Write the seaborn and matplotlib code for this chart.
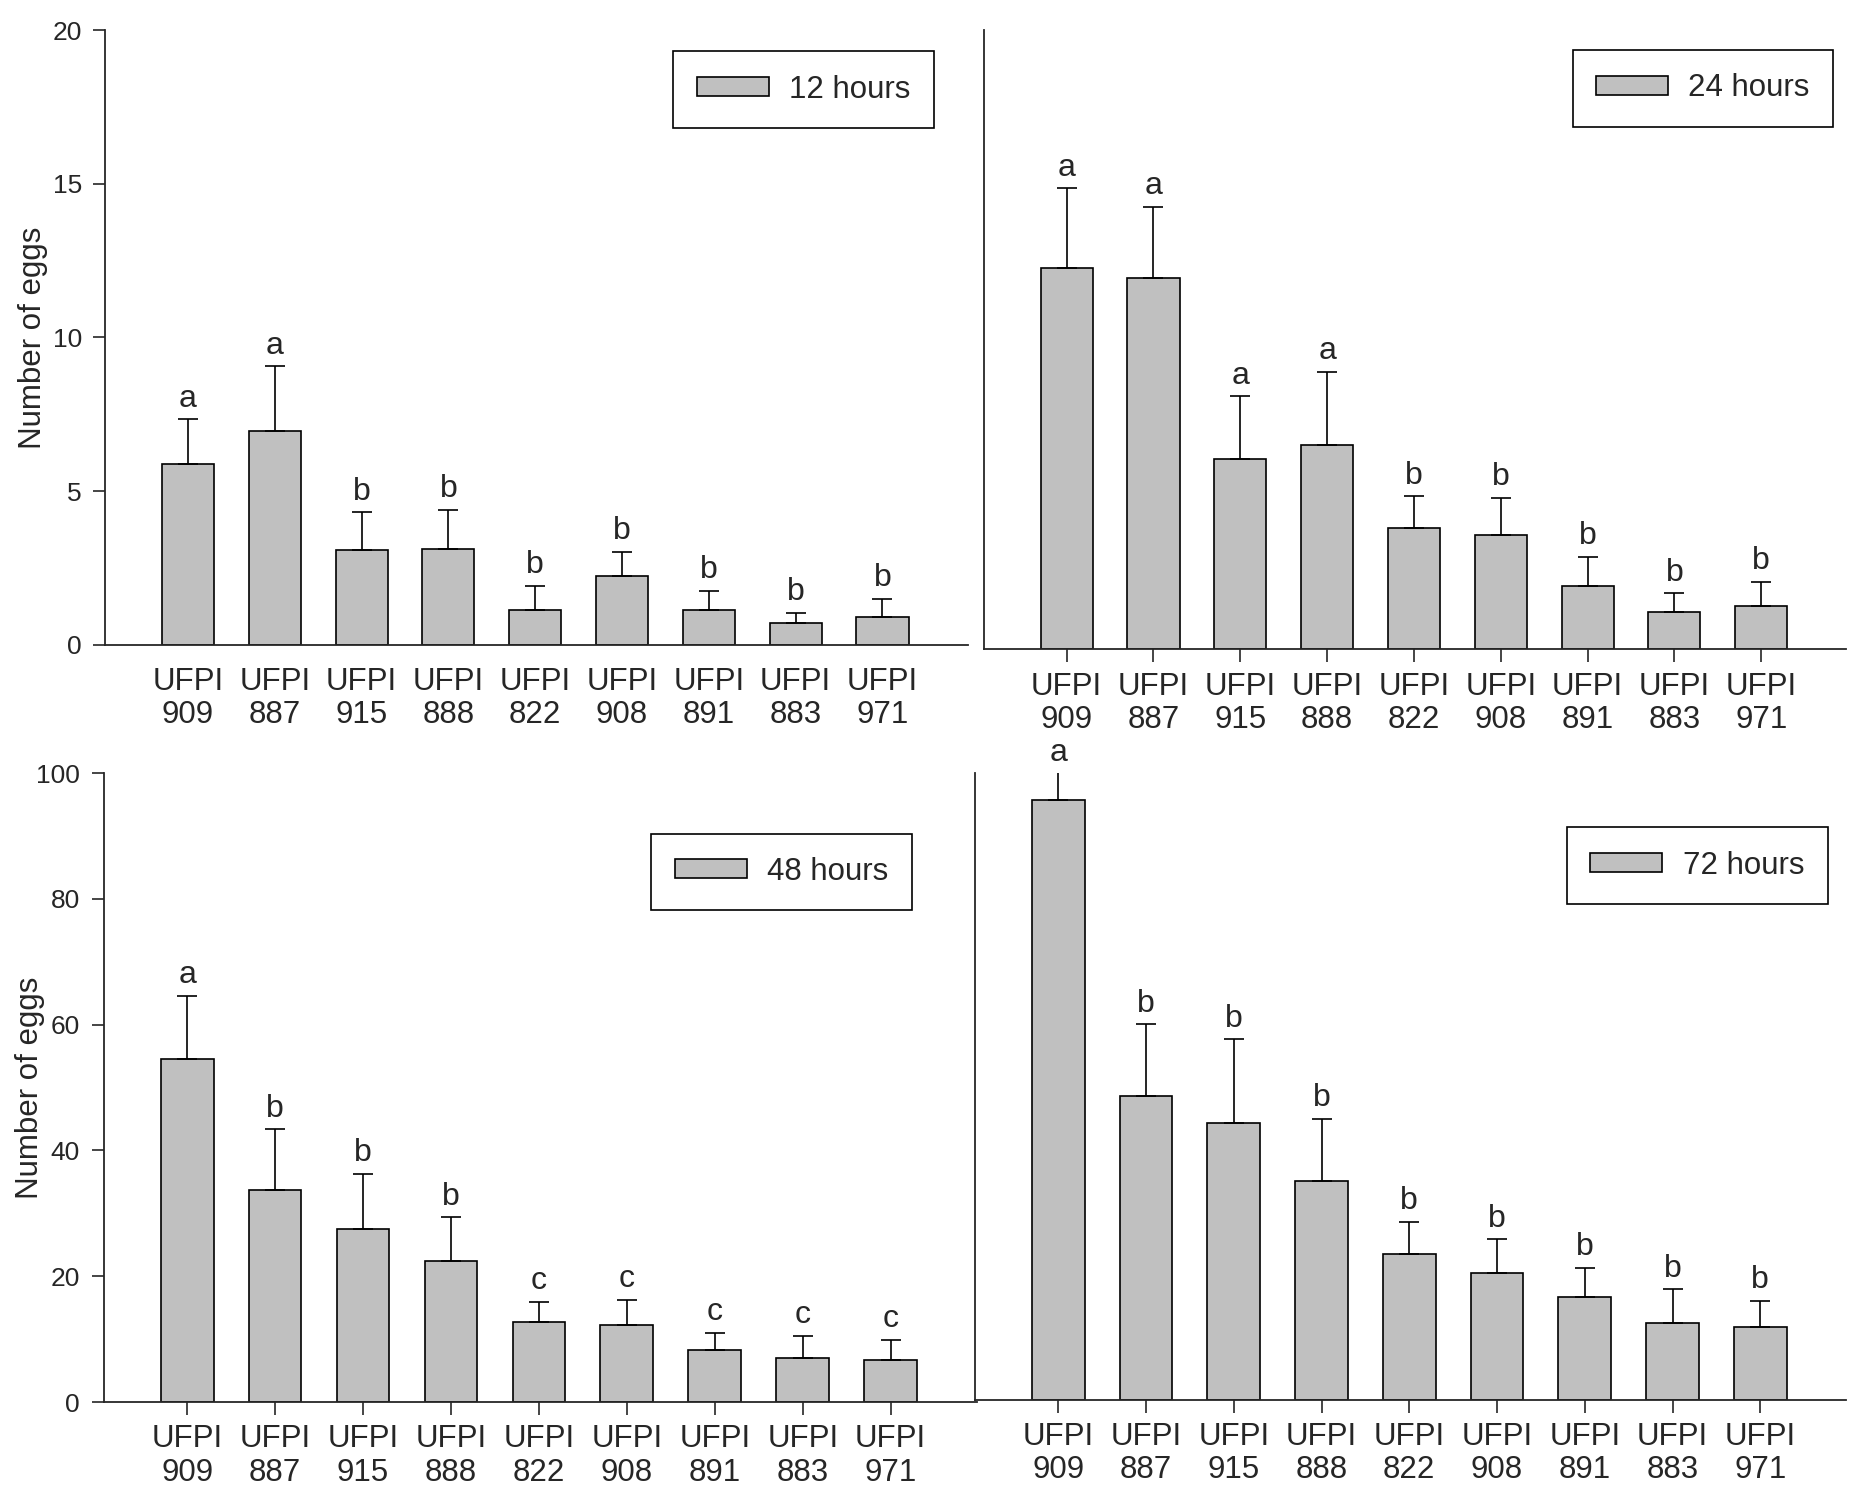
import pandas as pd
import matplotlib
matplotlib.use('Agg')
import matplotlib.pyplot as plt
import seaborn as sns
from matplotlib.patches import Patch

# Strains (same order in every panel)
strains = ['UFPI\n909', 'UFPI\n887', 'UFPI\n915', 'UFPI\n888', 'UFPI\n822',
           'UFPI\n908', 'UFPI\n891', 'UFPI\n883', 'UFPI\n971']

# Mean number of eggs and upper error (SE) per period
mean_12h = [5.88, 6.97, 3.07, 3.11, 1.13, 2.23, 1.13, 0.71, 0.90]
err_12h = [1.46, 2.09, 1.24, 1.29, 0.79, 0.79, 0.62, 0.33, 0.59]
letters_12h = ['a', 'a', 'b', 'b', 'b', 'b', 'b', 'b', 'b']

mean_24h = [12.33, 11.99, 6.16, 6.61, 3.91, 3.68, 2.05, 1.21, 1.41]
err_24h = [2.57, 2.31, 2.01, 2.35, 1.03, 1.22, 0.93, 0.60, 0.77]
letters_24h = ['a', 'a', 'a', 'a', 'b', 'b', 'b', 'b', 'b']

mean_48h = [54.5, 33.7, 27.5, 22.4, 12.7, 12.2, 8.2, 7.0, 6.7]
err_48h = [10.1, 9.7, 8.8, 7.0, 3.2, 4.1, 2.8, 3.5, 3.2]
letters_48h = ['a', 'b', 'b', 'b', 'c', 'c', 'c', 'c', 'c']

mean_72h = [95.7, 48.5, 44.1, 34.9, 23.3, 20.2, 16.4, 12.2, 11.6]
err_72h = [12.0, 11.4, 13.4, 9.9, 5.1, 5.4, 4.7, 5.4, 4.2]
letters_72h = ['a', 'b', 'b', 'b', 'b', 'b', 'b', 'b', 'b']

sns.set_style('ticks')
plt.rcParams['font.family'] = ['Liberation Sans', 'DejaVu Sans']

bar_color = '#c0c0c0'

fig = plt.figure(figsize=(18.5, 15.1), dpi=100)

panels = [
    # rect, means, errs, letters, label, ymax, yticks, show y, x ticks, legend anchor
    ([0.057, 0.573, 0.466, 0.407], mean_12h, err_12h, letters_12h, '12 hours', 20, [0, 5, 10, 15, 20], True, False, (0.364, 0.966)),
    ([0.532, 0.570, 0.466, 0.410], mean_24h, err_24h, letters_24h, '24 hours', 20, [0, 5, 10, 15, 20], False, True, (0.850, 0.967)),
    ([0.056, 0.0715, 0.472, 0.4165], mean_48h, err_48h, letters_48h, '48 hours', 100, [0, 20, 40, 60, 80, 100], True, True, (0.352, 0.448)),
    ([0.527, 0.073, 0.471, 0.415], mean_72h, err_72h, letters_72h, '72 hours', 100, [0, 20, 40, 60, 80, 100], False, True, (0.847, 0.452)),
]

for rect, means, errs, letters, label, ymax, yticks, show_y, x_ticks, anchor in panels:
    ax = fig.add_axes(rect)
    df = pd.DataFrame({'Strain': strains, 'Eggs': means, 'Err': errs})

    sns.barplot(data=df, x='Strain', y='Eggs', color=bar_color, saturation=1,
                edgecolor='black', linewidth=1.2, width=0.6, errorbar=None, ax=ax)

    # upper error bars only
    ax.errorbar(range(len(strains)), df['Eggs'], yerr=[[0] * len(strains), df['Err']],
                fmt='none', ecolor='black', elinewidth=1.2, capsize=7, capthick=1.2, zorder=3)

    # significance letters above the error bars
    for i, (m, e, let) in enumerate(zip(means, errs, letters)):
        top = min(m + e, ymax)
        ax.annotate(let, (i, top), xytext=(0, 4), textcoords='offset points',
                    ha='center', va='bottom', fontsize=23, annotation_clip=False)

    ax.set_xlim(-0.95, 8.98)
    ax.set_ylim(0, ymax)
    sns.despine(ax=ax)
    ax.spines['left'].set_linewidth(1.3)
    ax.spines['bottom'].set_linewidth(1.3)
    ax.set_xlabel('')

    if show_y:
        ax.set_yticks(yticks)
        ax.tick_params(axis='y', labelsize=19, length=9, width=1.2, pad=8)
        ax.set_ylabel('Number of eggs', fontsize=22.5)
        ax.yaxis.set_label_coords(-0.067, 0.5)
    else:
        ax.set_yticks([])
        ax.set_ylabel('')

    if x_ticks:
        ax.tick_params(axis='x', labelsize=22.5, length=9, width=1.2, pad=7)
    else:
        ax.tick_params(axis='x', labelsize=22.5, length=0, pad=16)
    for t in ax.get_xticklabels():
        t.set_linespacing(1.15)

    handle = Patch(facecolor=bar_color, edgecolor='black', linewidth=1.2, label=label)
    leg = ax.legend(handles=[handle], loc='upper left', bbox_to_anchor=anchor,
                    bbox_transform=fig.transFigure, borderaxespad=0, fontsize=22.5,
                    handlelength=2.3, handleheight=0.55, handletextpad=0.65,
                    borderpad=0.75, fancybox=False, framealpha=1, edgecolor='black')
    leg.get_frame().set_linewidth(1.2)

fig.savefig('out.png', dpi=100)
